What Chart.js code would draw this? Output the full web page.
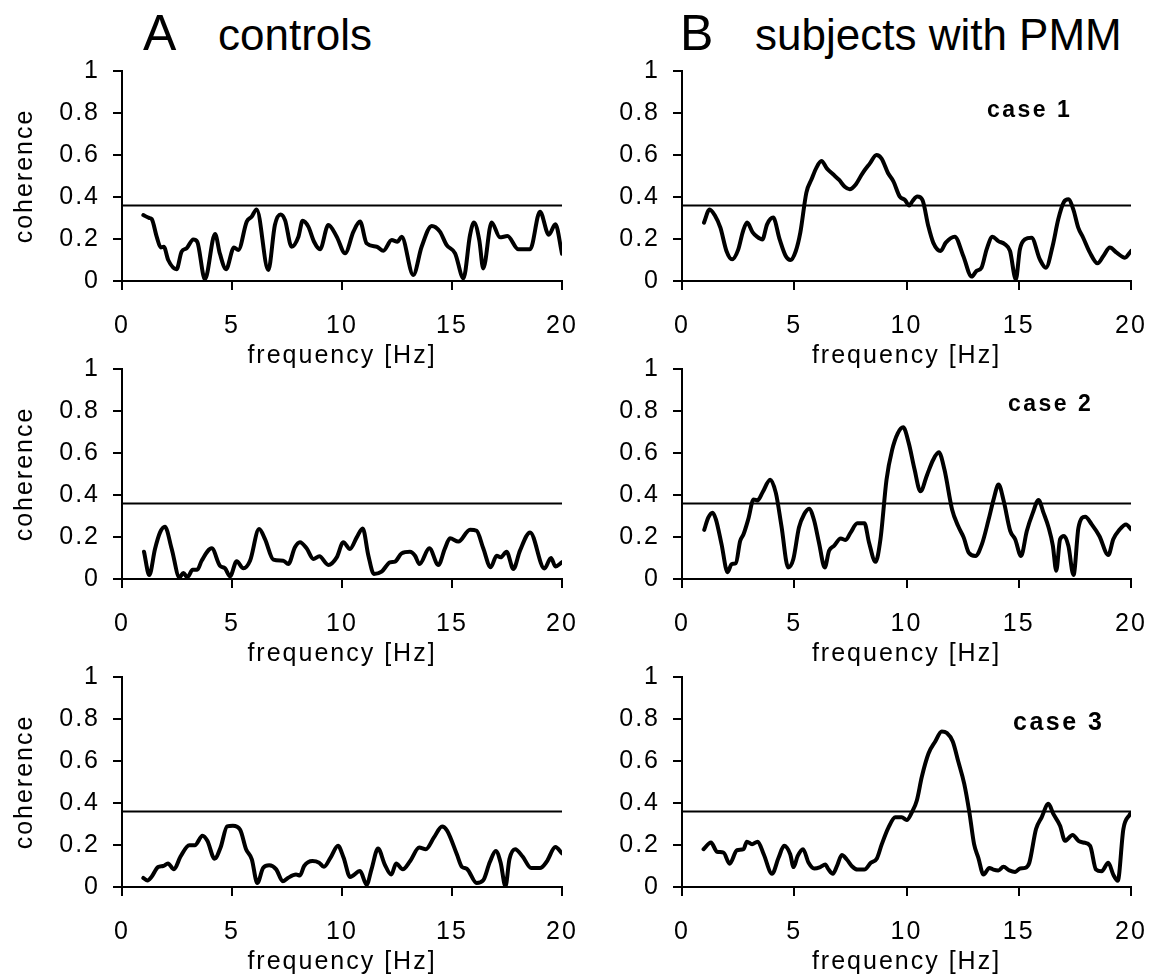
<!DOCTYPE html>
<html lang="en">
<head>
<meta charset="UTF-8">
<title>Coherence controls vs PMM</title>
<script src="https://cdn.jsdelivr.net/npm/chart.js"></script>
<style>
    html, body { margin: 0; padding: 0; background: #fff; overflow: hidden; }
    body { width: 1157px; height: 978px; position: relative; font-family: 'Liberation Sans', Arial, sans-serif; color: #000; }
    canvas { position: absolute; }
    .head { position: absolute; line-height: 1; white-space: nowrap; }
    .case { position: absolute; font-weight: bold; font-size: 23px; letter-spacing: 2.5px; line-height: 1; white-space: nowrap; }
</style>
</head>
<body>
    <div class="head" style="left:143px;top:8px;font-size:50px">A</div>
    <div class="head" style="left:218px;top:13px;font-size:44px">controls</div>
    <div class="head" style="left:680px;top:8px;font-size:50px">B</div>
    <div class="head" style="left:755px;top:13px;font-size:44px">subjects with PMM</div>

    <canvas id="a1" width="582" height="322" style="left:0;top:51px"></canvas>
    <canvas id="a2" width="582" height="322" style="left:0;top:349px"></canvas>
    <canvas id="a3" width="582" height="322" style="left:0;top:657px"></canvas>
    <canvas id="b1" width="591" height="322" style="left:560px;top:51px"></canvas>
    <canvas id="b2" width="591" height="322" style="left:560px;top:349px"></canvas>
    <canvas id="b3" width="591" height="322" style="left:560px;top:657px"></canvas>

    <div class="case" style="left:987px;top:98px">case 1</div>
    <div class="case" style="left:1008px;top:392px">case 2</div>
    <div class="case" style="left:1013px;top:709px;font-size:25px">case 3</div>

<script>
// significance level drawn as the horizontal line
const threshold = 0.36;
const xTicks = [0, 5, 10, 15, 20];

// A - controls
const hzA1 = [0.97, 1.24, 1.35, 1.58, 1.76, 1.9, 2.1, 2.48, 2.71, 2.94, 3.24, 3.42, 3.77, 4.23, 4.45, 4.73, 5.09, 5.29, 5.67, 5.89, 6.12, 6.65, 6.95, 7.21, 7.41, 7.71, 8.02, 8.21, 8.47, 8.73, 9.0, 9.38, 9.76, 10.14, 10.52, 10.82, 11.12, 11.58, 11.88, 12.26, 12.52, 12.71, 13.24, 13.62, 14.08, 14.45, 14.76, 15.14, 15.52, 15.82, 16.0, 16.24, 16.42, 16.8, 17.18, 17.52, 18.02, 18.55, 19.0, 19.4, 19.7, 20.0];
const cohA1 = [0.314, 0.30, 0.295, 0.21, 0.16, 0.163, 0.10, 0.056, 0.14, 0.156, 0.198, 0.187, 0.008, 0.224, 0.13, 0.056, 0.16, 0.148, 0.283, 0.306, 0.341, 0.052, 0.267, 0.317, 0.29, 0.163, 0.211, 0.287, 0.259, 0.187, 0.151, 0.267, 0.211, 0.132, 0.235, 0.283, 0.179, 0.163, 0.144, 0.195, 0.187, 0.211, 0.029, 0.163, 0.262, 0.235, 0.171, 0.132, 0.013, 0.219, 0.279, 0.195, 0.06, 0.279, 0.208, 0.214, 0.151, 0.151, 0.33, 0.22, 0.27, 0.13];

const hzA2 = [1.0, 1.24, 1.5, 1.73, 1.95, 2.26, 2.61, 2.79, 2.97, 3.21, 3.42, 3.62, 4.08, 4.45, 4.68, 4.91, 5.21, 5.52, 5.82, 6.23, 6.5, 6.88, 7.33, 7.56, 7.86, 8.09, 8.39, 8.7, 8.97, 9.38, 9.76, 10.06, 10.36, 10.67, 10.94, 11.2, 11.45, 11.8, 12.18, 12.41, 12.71, 13.09, 13.32, 13.52, 13.97, 14.38, 14.68, 14.91, 15.29, 15.82, 16.12, 16.42, 16.76, 17.03, 17.21, 17.48, 17.79, 18.09, 18.55, 19.2, 19.5, 19.7, 20.0];
const cohA2 = [0.13, 0.019, 0.143, 0.222, 0.249, 0.143, 0.008, 0.029, 0.008, 0.044, 0.044, 0.087, 0.146, 0.063, 0.051, 0.013, 0.084, 0.051, 0.087, 0.238, 0.19, 0.092, 0.087, 0.071, 0.151, 0.175, 0.146, 0.095, 0.108, 0.067, 0.103, 0.175, 0.143, 0.198, 0.241, 0.111, 0.024, 0.035, 0.079, 0.083, 0.122, 0.13, 0.111, 0.071, 0.146, 0.067, 0.146, 0.194, 0.178, 0.235, 0.23, 0.146, 0.056, 0.111, 0.103, 0.13, 0.048, 0.135, 0.222, 0.05, 0.1, 0.06, 0.08];

const hzA3 = [0.97, 1.16, 1.34, 1.64, 1.87, 2.09, 2.36, 2.66, 3.06, 3.31, 3.66, 3.88, 4.21, 4.48, 4.78, 5.04, 5.37, 5.64, 5.9, 6.15, 6.42, 6.69, 7.01, 7.31, 7.54, 7.91, 8.09, 8.28, 8.66, 8.96, 9.18, 9.48, 9.82, 10.07, 10.37, 10.82, 11.12, 11.34, 11.64, 11.94, 12.24, 12.46, 12.76, 13.1, 13.51, 13.81, 14.18, 14.55, 14.78, 15.22, 15.45, 15.67, 16.12, 16.42, 16.72, 16.99, 17.21, 17.43, 17.61, 17.87, 18.21, 18.6, 19.0, 19.3, 19.7, 20.0];
const cohA3 = [0.043, 0.031, 0.048, 0.095, 0.1, 0.112, 0.084, 0.145, 0.199, 0.199, 0.244, 0.22, 0.135, 0.188, 0.289, 0.292, 0.273, 0.18, 0.132, 0.019, 0.092, 0.103, 0.084, 0.027, 0.043, 0.059, 0.055, 0.1, 0.124, 0.116, 0.096, 0.14, 0.196, 0.14, 0.048, 0.076, 0.011, 0.084, 0.183, 0.108, 0.059, 0.112, 0.084, 0.124, 0.188, 0.18, 0.236, 0.288, 0.268, 0.156, 0.096, 0.087, 0.019, 0.032, 0.119, 0.172, 0.116, 0.003, 0.132, 0.18, 0.145, 0.09, 0.09, 0.12, 0.19, 0.16];

// B - subjects with PMM
const hzB1 = [0.98, 1.23, 1.46, 1.71, 1.98, 2.23, 2.5, 2.72, 2.9, 3.14, 3.34, 3.58, 3.79, 4.06, 4.35, 4.62, 4.83, 5.07, 5.27, 5.54, 5.77, 5.99, 6.21, 6.46, 6.73, 7.0, 7.25, 7.47, 7.74, 8.04, 8.37, 8.66, 8.89, 9.18, 9.41, 9.7, 9.93, 10.12, 10.27, 10.48, 10.71, 10.97, 11.19, 11.52, 11.75, 12.15, 12.53, 12.9, 13.12, 13.34, 13.57, 13.83, 14.09, 14.38, 14.61, 14.87, 15.05, 15.27, 15.57, 15.94, 16.21, 16.51, 16.76, 17.01, 17.21, 17.43, 17.65, 17.87, 18.17, 18.51, 18.77, 19.06, 19.36, 19.73, 20.0];
const cohB1 = [0.278, 0.341, 0.313, 0.254, 0.143, 0.103, 0.148, 0.238, 0.278, 0.233, 0.211, 0.198, 0.27, 0.302, 0.198, 0.119, 0.1, 0.143, 0.23, 0.421, 0.484, 0.54, 0.571, 0.535, 0.508, 0.481, 0.449, 0.437, 0.46, 0.513, 0.56, 0.6, 0.583, 0.513, 0.476, 0.402, 0.386, 0.36, 0.381, 0.402, 0.386, 0.262, 0.183, 0.143, 0.183, 0.211, 0.119, 0.021, 0.048, 0.063, 0.151, 0.211, 0.19, 0.175, 0.143, 0.008, 0.151, 0.198, 0.206, 0.103, 0.063, 0.167, 0.294, 0.376, 0.389, 0.341, 0.254, 0.206, 0.135, 0.084, 0.119, 0.159, 0.135, 0.111, 0.143];

const hzB2 = [0.99, 1.17, 1.36, 1.51, 1.76, 2.03, 2.21, 2.4, 2.59, 2.74, 2.95, 3.19, 3.36, 3.59, 3.93, 4.18, 4.43, 4.73, 4.96, 5.21, 5.44, 5.66, 5.88, 6.1, 6.36, 6.55, 6.77, 7.07, 7.29, 7.51, 7.81, 8.13, 8.33, 8.62, 8.84, 9.11, 9.36, 9.61, 9.85, 10.1, 10.36, 10.62, 10.92, 11.19, 11.44, 11.69, 12.03, 12.3, 12.55, 12.77, 13.07, 13.36, 13.66, 13.88, 14.1, 14.33, 14.62, 14.84, 15.1, 15.36, 15.63, 15.88, 16.1, 16.33, 16.52, 16.67, 16.84, 17.02, 17.21, 17.44, 17.66, 17.96, 18.25, 18.59, 18.99, 19.21, 19.48, 19.78, 20.0];
const cohB2 = [0.234, 0.292, 0.316, 0.284, 0.166, 0.032, 0.071, 0.076, 0.181, 0.213, 0.284, 0.379, 0.374, 0.413, 0.473, 0.41, 0.252, 0.055, 0.095, 0.245, 0.308, 0.335, 0.281, 0.174, 0.055, 0.134, 0.158, 0.193, 0.186, 0.221, 0.265, 0.265, 0.174, 0.082, 0.189, 0.473, 0.615, 0.694, 0.723, 0.647, 0.521, 0.418, 0.497, 0.568, 0.603, 0.521, 0.331, 0.252, 0.197, 0.126, 0.11, 0.166, 0.284, 0.379, 0.45, 0.371, 0.229, 0.189, 0.11, 0.229, 0.316, 0.376, 0.316, 0.245, 0.158, 0.039, 0.189, 0.205, 0.158, 0.019, 0.245, 0.297, 0.26, 0.205, 0.114, 0.189, 0.234, 0.26, 0.237];

const hzB3 = [0.96, 1.29, 1.56, 1.85, 2.12, 2.45, 2.74, 2.89, 3.12, 3.37, 3.64, 4.01, 4.3, 4.55, 4.82, 4.97, 5.15, 5.39, 5.64, 5.89, 6.16, 6.38, 6.53, 6.72, 6.9, 7.12, 7.34, 7.57, 7.82, 8.12, 8.41, 8.68, 8.9, 9.2, 9.5, 9.79, 10.01, 10.24, 10.46, 10.68, 10.98, 11.28, 11.57, 11.8, 12.06, 12.31, 12.57, 12.8, 13.01, 13.2, 13.43, 13.69, 13.87, 14.09, 14.32, 14.58, 14.84, 15.06, 15.28, 15.47, 15.77, 16.02, 16.32, 16.54, 16.84, 17.06, 17.4, 17.66, 17.88, 18.18, 18.44, 18.69, 18.99, 19.21, 19.41, 19.66, 19.96];
const cohB3 = [0.18, 0.212, 0.168, 0.164, 0.111, 0.175, 0.18, 0.216, 0.204, 0.216, 0.156, 0.063, 0.139, 0.196, 0.156, 0.095, 0.147, 0.18, 0.115, 0.088, 0.095, 0.107, 0.083, 0.063, 0.099, 0.152, 0.131, 0.099, 0.083, 0.083, 0.115, 0.136, 0.204, 0.284, 0.332, 0.332, 0.319, 0.356, 0.412, 0.524, 0.636, 0.693, 0.741, 0.733, 0.693, 0.596, 0.492, 0.356, 0.204, 0.139, 0.059, 0.091, 0.083, 0.079, 0.096, 0.079, 0.072, 0.088, 0.091, 0.115, 0.276, 0.332, 0.396, 0.348, 0.292, 0.22, 0.248, 0.22, 0.212, 0.196, 0.083, 0.075, 0.115, 0.059, 0.03, 0.276, 0.348];

Chart.defaults.font.family = "'Liberation Sans', Arial, sans-serif";
Chart.defaults.color = '#000';

// wide lettering like the original figure
const spacing = {
    id: 'spacing',
    beforeLayout(chart) { chart.ctx.letterSpacing = '2px'; },
    beforeDraw(chart) { chart.ctx.letterSpacing = '2px'; }
};

function makePanel(id, hz, coh, showTitle) {
    const points = hz.map((f, i) => ({ x: f, y: coh[i] }));
    const line = [{ x: xTicks[0], y: threshold }, { x: xTicks[xTicks.length - 1], y: threshold }];
    return new Chart(document.getElementById(id), {
        type: 'line',
        data: {
            datasets: [
                {
                    data: points,
                    borderColor: '#000',
                    borderWidth: 4,
                    pointRadius: 0,
                    cubicInterpolationMode: 'monotone',
                    borderJoinStyle: 'round',
                    borderCapStyle: 'round'
                },
                {
                    data: line,
                    borderColor: '#000',
                    borderWidth: 2,
                    pointRadius: 0
                }
            ]
        },
        options: {
            responsive: false,
            animation: false,
            devicePixelRatio: 1,
            layout: { padding: { top: 20, right: 20, left: 0, bottom: 0 } },
            plugins: { legend: { display: false }, tooltip: { enabled: false } },
            scales: {
                x: {
                    type: 'linear',
                    min: 0,
                    max: 20,
                    afterBuildTicks: s => { s.ticks = xTicks.map(v => ({ value: v })); },
                    // fixed box so every panel lines up
                    afterFit: s => { s.height = 92; s.paddingLeft = 0; s.paddingRight = 0; },
                    border: { display: true, color: '#000', width: 2 },
                    grid: { drawOnChartArea: false, drawTicks: true, tickLength: 9, color: '#000', lineWidth: 2 },
                    ticks: { font: { size: 25 }, padding: 21, maxRotation: 0 },
                    title: { display: true, text: 'frequency [Hz]', font: { size: 25 }, padding: { top: 0, bottom: 2 } }
                },
                y: {
                    min: 0,
                    max: 1,
                    afterFit: s => { s.width = 122; s.paddingTop = 0; s.paddingBottom = 0; },
                    border: { display: true, color: '#000', width: 2 },
                    grid: { drawOnChartArea: false, drawTicks: true, tickLength: 9, color: '#000', lineWidth: 2 },
                    ticks: {
                        stepSize: 0.2,
                        font: { size: 25 },
                        padding: 13,
                        callback: v => String(Math.round(v * 10) / 10)
                    },
                    title: { display: showTitle, text: 'coherence', font: { size: 25 }, padding: { top: 10, bottom: 0 } }
                }
            }
        },
        plugins: [spacing]
    });
}

makePanel('a1', hzA1, cohA1, true);
makePanel('a2', hzA2, cohA2, true);
makePanel('a3', hzA3, cohA3, true);
makePanel('b1', hzB1, cohB1, false);
makePanel('b2', hzB2, cohB2, false);
makePanel('b3', hzB3, cohB3, false);
</script>
</body>
</html>
